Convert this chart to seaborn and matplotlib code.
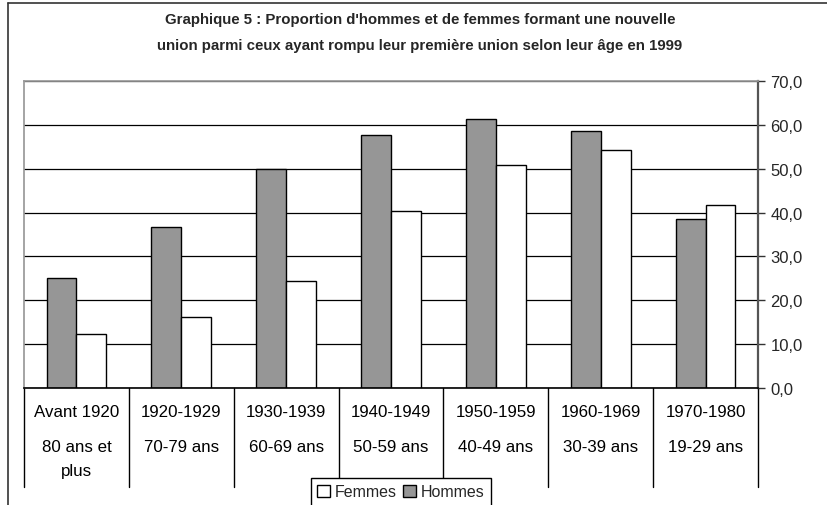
import matplotlib
matplotlib.use("Agg")
import matplotlib.pyplot as plt
from matplotlib.patches import Patch
from matplotlib.lines import Line2D
import seaborn as sns
import pandas as pd

# values
periodes = ["Avant 1920", "1920-1929", "1930-1939", "1940-1949",
            "1950-1959", "1960-1969", "1970-1980"]
ages = ["80 ans et\nplus", "70-79 ans", "60-69 ans", "50-59 ans",
        "40-49 ans", "30-39 ans", "19-29 ans"]
hommes = [25.0, 36.7, 50.0, 57.8, 61.4, 58.6, 38.6]
femmes = [12.4, 16.1, 24.3, 40.3, 50.8, 54.3, 41.7]
yticks = [0, 10, 20, 30, 40, 50, 60, 70]

titre = ["Graphique 5 : Proportion d'hommes et de femmes formant une nouvelle",
         "union parmi ceux ayant rompu leur première union selon leur âge en 1999"]

df = pd.DataFrame({
    "periode": periodes * 2,
    "sexe": ["Hommes"] * len(periodes) + ["Femmes"] * len(periodes),
    "valeur": hommes + femmes,
})

sns.set_theme(style="white")
plt.rcParams["font.family"] = ["Liberation Sans", "DejaVu Sans"]

W, H = 827, 506
fig = plt.figure(figsize=(W / 100, H / 100), dpi=100)
ax = fig.add_axes([24 / W, 1 - 389 / H, (758 - 24) / W, (389 - 82) / H])

couleurs = {"Hommes": "#969696", "Femmes": "white"}
sns.barplot(data=df, x="periode", y="valeur", hue="sexe",
            hue_order=["Hommes", "Femmes"], palette=couleurs,
            order=periodes, width=0.57, edgecolor="black", linewidth=1,
            legend=False, ax=ax, zorder=3)

ax.set_ylim(0, 70)
ax.set_xlim(-0.5, len(periodes) - 0.5)
ax.set_yticks(yticks)
ax.set_yticklabels([f"{v:.1f}".replace(".", ",") for v in yticks], fontsize=12)
ax.yaxis.tick_right()
ax.tick_params(axis="y", right=True, length=5, width=1, color="#333333",
               direction="out", pad=4)
ax.set_xticks([])
ax.set_xlabel("")
ax.set_ylabel("")
ax.grid(axis="y", color="black", linewidth=0.9, zorder=0)
ax.set_axisbelow(True)
ax.grid(axis="x", visible=False)

ax.spines["top"].set_color("#999999")
ax.spines["left"].set_color("#999999")
ax.spines["right"].set_color("#555555")
ax.spines["right"].set_linewidth(1.6)
ax.spines["bottom"].set_color("black")
ax.spines["bottom"].set_linewidth(1.2)
for s in ax.spines.values():
    s.set_zorder(4)

# category table below the axis
trans = ax.get_xaxis_transform()
px = 1 / (389 - 82)
for i in range(len(periodes) + 1):
    ax.plot([i - 0.5, i - 0.5], [0, -(488 - 389) * px], color="black",
            linewidth=1, transform=trans, clip_on=False, zorder=1)
for i, (p, a) in enumerate(zip(periodes, ages)):
    ax.text(i, -(413 - 389) * px, p, transform=trans, ha="center",
            va="center", fontsize=12.2, color="black")
    for j, ligne in enumerate(a.split("\n")):
        ax.text(i, -(448 - 389 + 24 * j) * px, ligne, transform=trans,
                ha="center", va="center", fontsize=12.2, color="black")

# title
fig.text(420 / W, 1 - 20 / H, titre[0], ha="center", va="center",
         fontsize=10.8, fontweight="bold")
fig.text(420 / W, 1 - 46 / H, titre[1], ha="center", va="center",
         fontsize=10.8, fontweight="bold")

# outer frame of the chart area
fig.add_artist(Line2D([8 / W, 1], [1 - 4 / H, 1 - 4 / H], color="#333333",
                      linewidth=1.2))
fig.add_artist(Line2D([8 / W, 8 / W], [0, 1 - 4 / H], color="#333333",
                      linewidth=1.2))

handles = [Patch(facecolor=couleurs["Femmes"], edgecolor="black", label="Femmes"),
           Patch(facecolor=couleurs["Hommes"], edgecolor="black", label="Hommes")]
leg = fig.legend(handles=handles, loc="upper center",
                 bbox_to_anchor=(401 / W, 1 - 479 / H), ncol=2, fontsize=11.5,
                 frameon=True, fancybox=False, edgecolor="black",
                 handlelength=0.8, handleheight=0.8, handletextpad=0.3,
                 columnspacing=0.4, borderpad=0.4, borderaxespad=0)
leg.get_frame().set_linewidth(1)
leg.get_frame().set_alpha(1)
leg.set_zorder(10)

fig.savefig("out.png", dpi=100, facecolor="white")
